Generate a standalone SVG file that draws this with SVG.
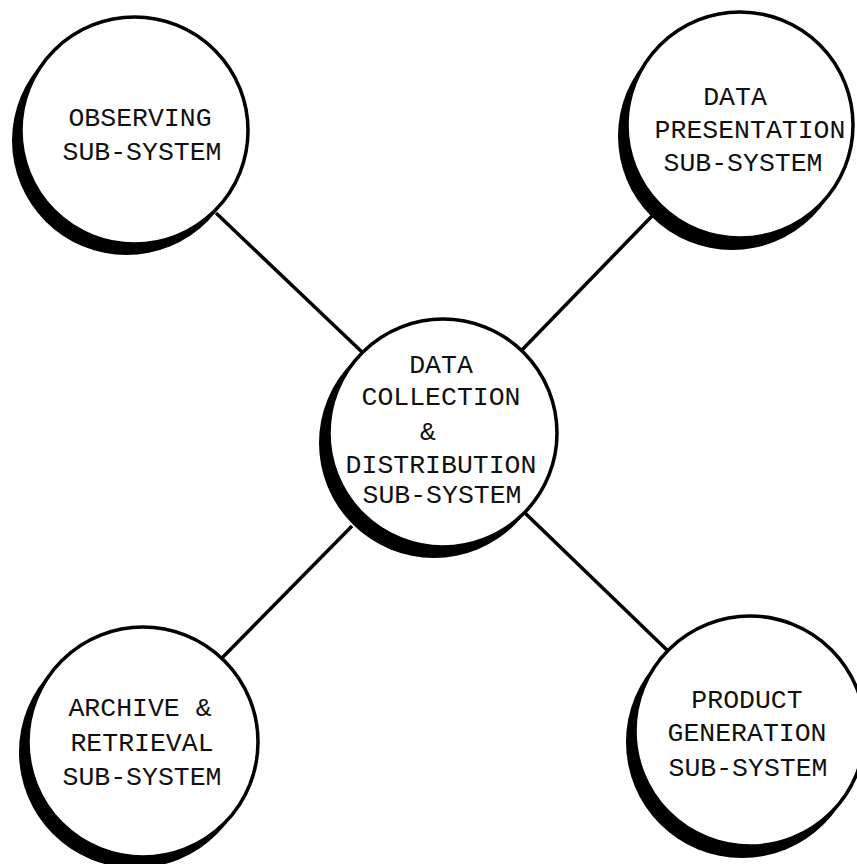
<svg xmlns="http://www.w3.org/2000/svg" width="857" height="864" viewBox="0 0 857 864">
<style>
.shadow{fill:#000}
.disc{fill:#fff;stroke:#000;stroke-width:3.5}
.conn line{stroke:#000;stroke-width:3.5;stroke-linecap:butt}
text{font-family:"Liberation Mono","Courier New",monospace;font-size:26.5px;fill:#111;text-anchor:middle}
</style>
<rect width="857" height="864" fill="#fff"/>
<g id="connectors" class="conn">
<line x1="216" y1="213" x2="362" y2="352"/>
<line x1="652" y1="216" x2="520" y2="352"/>
<line x1="352" y1="526" x2="221" y2="659"/>
<line x1="525" y1="513" x2="669" y2="652"/>
</g>
<g id="observing">
<circle class="shadow" cx="126.5" cy="140.5" r="114.5"/>
<circle class="disc" cx="134.5" cy="130.5" r="113.5"/>
<text x="140" y="126">OBSERVING</text>
<text x="142" y="160">SUB-SYSTEM</text>
</g>
<g id="data-presentation">
<circle class="shadow" cx="732" cy="136" r="114"/>
<circle class="disc" cx="740" cy="125" r="113"/>
<text x="735" y="105">DATA</text>
<text x="750" y="138">PRESENTATION</text>
<text x="743" y="171">SUB-SYSTEM</text>
</g>
<g id="data-collection">
<circle class="shadow" cx="434" cy="443" r="115"/>
<circle class="disc" cx="443" cy="433" r="114"/>
<text x="441" y="373">DATA</text>
<text x="441" y="405">COLLECTION</text>
<text x="428" y="440">&amp;</text>
<text x="441" y="473">DISTRIBUTION</text>
<text x="442" y="503">SUB-SYSTEM</text>
</g>
<g id="archive">
<circle class="shadow" cx="135" cy="752" r="116"/>
<circle class="disc" cx="143" cy="742" r="115"/>
<text x="140" y="716">ARCHIVE &amp;</text>
<text x="142" y="751">RETRIEVAL</text>
<text x="142" y="785">SUB-SYSTEM</text>
</g>
<g id="product-generation">
<circle class="shadow" cx="742" cy="742" r="116"/>
<circle class="disc" cx="750" cy="731" r="115"/>
<text x="747" y="708">PRODUCT</text>
<text x="747" y="741">GENERATION</text>
<text x="748" y="776">SUB-SYSTEM</text>
</g>
</svg>
